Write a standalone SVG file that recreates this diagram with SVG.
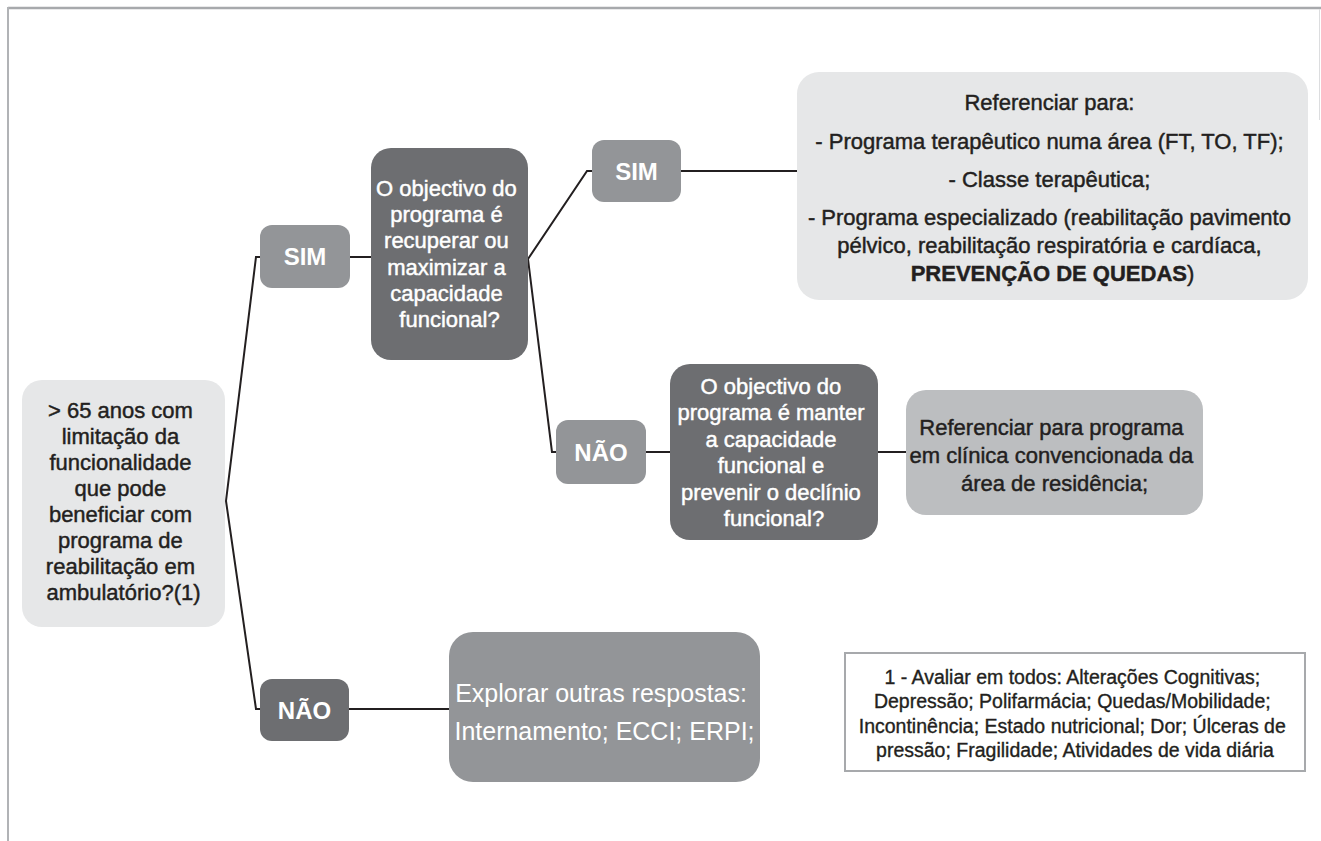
<svg xmlns="http://www.w3.org/2000/svg" width="1321" height="841" viewBox="0 0 1321 841">
  <style>
    .t { font-family: "Liberation Sans", Arial, sans-serif; font-size: 22px; text-anchor: middle; stroke-width: 0.45; }
    .dk { fill: #231f20; stroke: #231f20; }
    .wt { fill: #ffffff; stroke: #ffffff; }
    .plain { stroke: none; }
    .lbl { font-family: "Liberation Sans", Arial, sans-serif; font-size: 24px; font-weight: bold; fill: #ffffff; text-anchor: middle; }
    .light { fill: #e6e7e8; }
    .mid { fill: #939598; }
    .dark { fill: #6d6e71; }
    .res2 { fill: #bcbec0; }
    .conn { fill: none; stroke: #231f20; stroke-width: 2; stroke-linejoin: miter; }
  </style>
  <rect width="1321" height="841" fill="#ffffff"/>
  <g id="frame">
    <line x1="8" y1="8" x2="1321" y2="8" stroke="#a7a9ac" stroke-width="2.5"/>
    <line x1="8" y1="7" x2="8" y2="841" stroke="#b1b3b6" stroke-width="2"/>
    <line x1="1319.5" y1="9" x2="1319.5" y2="120" stroke="#dcdddf" stroke-width="1"/>
  </g>
  <g id="connectors">
    <polyline class="conn" points="260,257 256,257 226,501 256,709 260,709"/>
    <line class="conn" x1="350" y1="257" x2="371" y2="257"/>
    <polyline class="conn" points="592,171 587,171 528,259 552,452 556,452"/>
    <line class="conn" x1="681" y1="171" x2="797" y2="171"/>
    <line class="conn" x1="646" y1="452" x2="670" y2="452"/>
    <line class="conn" x1="878" y1="452" x2="906" y2="452"/>
    <line class="conn" x1="349" y1="709" x2="449" y2="709"/>
  </g>
  <g id="start">
    <rect class="light" x="22" y="380" width="203" height="247" rx="20"/>
    <text class="t dk">
      <tspan x="123.5" y="418">&gt; 65 anos com</tspan>
      <tspan x="123.5" y="444">limitação da</tspan>
      <tspan x="123.5" y="470">funcionalidade</tspan>
      <tspan x="123.5" y="496">que pode</tspan>
      <tspan x="123.5" y="522">beneficiar com</tspan>
      <tspan x="123.5" y="548">programa de</tspan>
      <tspan x="123.5" y="574">reabilitação em</tspan>
      <tspan x="123.5" y="600">ambulatório?(1)</tspan>
    </text>
  </g>
  <g id="sim1">
    <rect class="mid" x="260" y="225" width="90" height="63" rx="12"/>
    <text class="lbl" x="305" y="265">SIM</text>
  </g>
  <g id="q1">
    <rect class="dark" x="371" y="148" width="157" height="212" rx="20"/>
    <text class="t wt">
      <tspan x="449.5" y="196">O objectivo do</tspan>
      <tspan x="449.5" y="222">programa é</tspan>
      <tspan x="449.5" y="248">recuperar ou</tspan>
      <tspan x="449.5" y="275">maximizar a</tspan>
      <tspan x="449.5" y="301">capacidade</tspan>
      <tspan x="449.5" y="327">funcional?</tspan>
    </text>
  </g>
  <g id="sim2">
    <rect class="mid" x="592" y="140" width="89" height="62" rx="12"/>
    <text class="lbl" x="636.5" y="180">SIM</text>
  </g>
  <g id="result1">
    <rect class="light" x="797" y="72" width="511" height="228" rx="22"/>
    <text class="t dk">
      <tspan x="1052.5" y="110">Referenciar para:</tspan>
      <tspan x="1052.5" y="149">- Programa terapêutico numa área (FT, TO, TF);</tspan>
      <tspan x="1052.5" y="187">- Classe terapêutica;</tspan>
      <tspan x="1052.5" y="225">- Programa especializado (reabilitação pavimento</tspan>
      <tspan x="1052.5" y="253">pélvico, reabilitação respiratória e cardíaca,</tspan>
      <tspan x="1052.5" y="281"><tspan font-weight="bold">PREVENÇÃO DE QUEDAS</tspan>)</tspan>
    </text>
  </g>
  <g id="nao2">
    <rect class="mid" x="556" y="420" width="90" height="64" rx="12"/>
    <text class="lbl" x="601" y="461">NÃO</text>
  </g>
  <g id="q2">
    <rect class="dark" x="670" y="364" width="208" height="176" rx="20"/>
    <text class="t wt">
      <tspan x="774" y="394">O objectivo do</tspan>
      <tspan x="774" y="420">programa é manter</tspan>
      <tspan x="774" y="447">a capacidade</tspan>
      <tspan x="774" y="473">funcional e</tspan>
      <tspan x="774" y="500">prevenir o declínio</tspan>
      <tspan x="774" y="526">funcional?</tspan>
    </text>
  </g>
  <g id="result2">
    <rect class="res2" x="906" y="390" width="297" height="125" rx="20"/>
    <text class="t dk">
      <tspan x="1054.5" y="435">Referenciar para programa</tspan>
      <tspan x="1054.5" y="463">em clínica convencionada da</tspan>
      <tspan x="1054.5" y="491">área de residência;</tspan>
    </text>
  </g>
  <g id="nao1">
    <rect class="dark" x="260" y="679" width="89" height="62" rx="12"/>
    <text class="lbl" x="304.5" y="719">NÃO</text>
  </g>
  <g id="result3">
    <rect class="mid" x="449" y="632" width="311" height="150" rx="24"/>
    <text class="t wt plain" style="font-size:25px">
      <tspan x="604.5" y="702">Explorar outras respostas:</tspan>
      <tspan x="604.5" y="740">Internamento; ECCI; ERPI;</tspan>
    </text>
  </g>
  <g id="footnote">
    <rect x="845" y="653" width="460" height="118" fill="#ffffff" stroke="#a7a9ac" stroke-width="2"/>
    <text class="t dk" style="font-size:19.5px; stroke-width:0.35">
      <tspan x="1075" y="684">1 - Avaliar em todos: Alterações Cognitivas;</tspan>
      <tspan x="1075" y="708">Depressão; Polifarmácia; Quedas/Mobilidade;</tspan>
      <tspan x="1075" y="733">Incontinência; Estado nutricional; Dor; Úlceras de</tspan>
      <tspan x="1075" y="757">pressão; Fragilidade; Atividades de vida diária</tspan>
    </text>
  </g>
</svg>
